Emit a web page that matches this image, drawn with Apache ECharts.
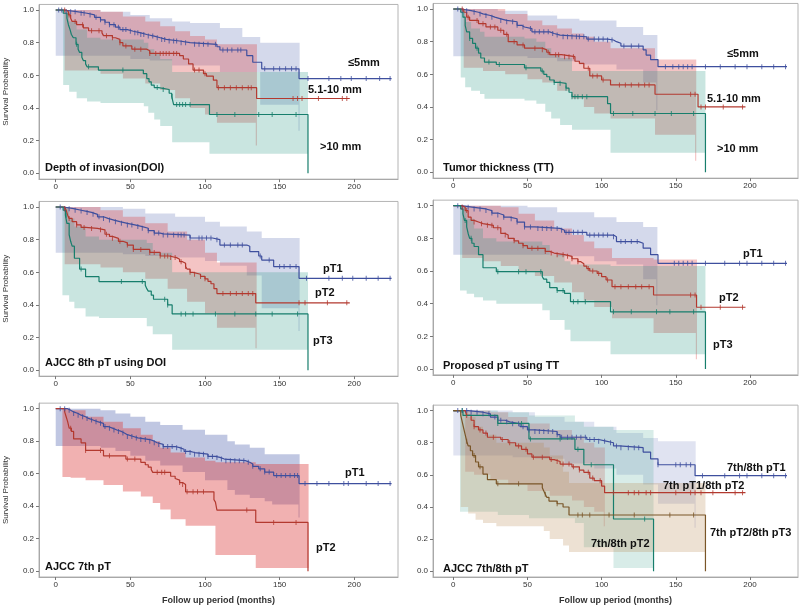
<!DOCTYPE html>
<html>
<head>
<meta charset="utf-8">
<script src="https://cdn.jsdelivr.net/npm/echarts@6.0.0/dist/echarts.min.js"></script>
<style>
html,body{margin:0;padding:0;background:#fff;}
#km{width:800px;height:606px;}
</style>
</head>
<body>
<div id="km"></div>
<script>
// tick positions
var monthTicks = [0, 50, 100, 150, 200];
var probTicks = [0, 0.2, 0.4, 0.6, 0.8, 1.0];

// ---- Depth of invasion (DOI)
var doiLowSurv = [[0,1],[5,0.99],[14,0.98],[21,0.97],[26,0.955],[30,0.94],[33,0.925],[36,0.91],[40,0.895],[43,0.88],[48,0.87],[52,0.86],[57,0.85],[61,0.84],[66,0.83],[70,0.82],[74,0.81],[83,0.80],[90,0.79],[108,0.775],[110,0.755],[128,0.72],[132,0.68],[138,0.64],[163,0.58],[225,0.58]];
var doiLowCens = [2,4,7,10,13,17,19,23,27,30,33,36,39,42,45,47,50,53,55,57,59,62,65,68,71,73,76,79,81,84,87,93,96,99,102,107,112,115,118,122,124,140,146,150,154,158,161,169,183,191,198,208,217,224];
var doiLowBand = [[0,0.72,1.0],[30,0.72,0.99],[50,0.70,0.97],[63,0.69,0.95],[78,0.66,0.93],[90,0.66,0.92],[110,0.62,0.89],[125,0.62,0.835],[137,0.42,0.80],[162.6,0.26,0.80],[163.4,0.26,0.80]];
var doiMidSurv = [[0,1],[7,0.99],[8.5,0.97],[10,0.95],[11,0.93],[14,0.91],[18.5,0.89],[22,0.873],[31,0.86],[32,0.843],[38,0.83],[40,0.82],[43,0.80],[45,0.78],[51,0.76],[61,0.75],[63,0.734],[83,0.72],[85.5,0.70],[89,0.67],[92,0.632],[99,0.61],[101,0.595],[105.6,0.57],[108,0.524],[134.6,0.458],[197,0.458]];
var doiMidCens = [6,9,13,18,24,29,34,38,43,47,53,57,63,67,70,72,74,76,79,81,93,96,100,109,113,117,121,125,129,131,159,162,165,176,192,195];
var doiMidBand = [[6,0.63,1.0],[30,0.61,0.99],[45,0.58,0.96],[60,0.55,0.93],[70,0.51,0.90],[80,0.46,0.87],[90,0.40,0.84],[100,0.36,0.82],[108,0.31,0.79],[134,0.17,0.79],[134.8,0.17,0.79]];
var doiHighSurv = [[0,1],[5,0.98],[7.5,0.95],[8.5,0.91],[9.6,0.88],[10.5,0.85],[11.8,0.83],[13.6,0.79],[15,0.76],[16,0.74],[17.5,0.71],[18.5,0.69],[20,0.67],[21,0.652],[28.6,0.632],[58.7,0.61],[61,0.58],[62.5,0.56],[64,0.54],[66,0.525],[69,0.513],[76,0.49],[77.7,0.47],[79,0.421],[103,0.36],[169,0]];
var doiHighCens = [14,22,45,68,72,78,81,83,85,87,90,108,120,136,145,161];
var doiHighBand = [[5,0.54,1.0],[9,0.50,0.93],[14,0.46,0.88],[21,0.44,0.83],[30,0.43,0.82],[59,0.41,0.80],[62,0.37,0.76],[66,0.33,0.73],[70,0.29,0.70],[78,0.19,0.62],[103,0.12,0.62],[169,0.12,0.62]];

// ---- Tumor thickness (TT)
var ttLowSurv = [[0,1],[5,0.99],[12,0.98],[17,0.97],[20,0.96],[25,0.95],[28,0.94],[32,0.93],[36,0.922],[43,0.90],[46,0.89],[48,0.88],[53,0.86],[65,0.85],[68,0.84],[72,0.83],[90,0.816],[104,0.81],[108,0.80],[110,0.79],[113,0.773],[128,0.75],[130,0.718],[133,0.69],[138,0.647],[225,0.647]];
var ttLowCens = [3,6,9,14,18,22,26,32,36,40,43,47,52,55,58,61,64,67,70,74,77,80,83,85,88,91,95,98,101,104,107,115,120,125,143,148,152,155,158,161,170,180,190,198,208,216,224];
var ttLowBand = [[0,0.71,1.0],[30,0.71,0.99],[50,0.70,0.96],[70,0.68,0.94],[85,0.66,0.93],[110,0.63,0.89],[128,0.55,0.84],[136.8,0.38,0.84],[137.6,0.38,0.84]];
var ttMidSurv = [[0,1],[7,0.98],[9,0.95],[11,0.93],[17,0.91],[22,0.89],[30,0.87],[34,0.845],[37,0.80],[43,0.78],[48,0.76],[60,0.75],[63,0.735],[65,0.72],[73,0.708],[82,0.68],[85,0.667],[88,0.637],[92,0.59],[100,0.565],[106,0.535],[136,0.478],[165,0.40],[197,0.40]];
var ttMidCens = [6,10,16,20,25,28,32,36,41,47,55,60,64,69,71,75,78,81,91,94,97,101,112,116,120,125,129,132,160,163,167,170,182,195];
var ttMidBand = [[7,0.64,1.0],[20,0.62,1.0],[35,0.60,0.97],[50,0.57,0.93],[60,0.55,0.90],[70,0.50,0.88],[80,0.45,0.85],[88,0.40,0.83],[95,0.36,0.80],[106,0.33,0.76],[136,0.23,0.69],[163,0.07,0.69],[163.8,0.07,0.69]];
var ttHighSurv = [[0,1],[5,0.98],[6.5,0.95],[8,0.90],[9,0.86],[11,0.82],[13,0.79],[15,0.76],[17,0.73],[18.5,0.70],[21,0.675],[29,0.66],[48,0.64],[59,0.62],[61,0.60],[63,0.585],[65,0.565],[68,0.55],[72,0.545],[76,0.515],[78,0.49],[80,0.463],[104,0.42],[106,0.36],[170,0]];
var ttHighCens = [11,16,24,31,49,60,68,72,76,80,82,84,87,90,108,121,136,147,162];
var ttHighBand = [[5,0.58,1.0],[8,0.52,0.92],[12,0.50,0.88],[18,0.48,0.86],[21,0.45,0.83],[48,0.44,0.82],[56,0.42,0.80],[62,0.37,0.76],[66,0.33,0.72],[72,0.29,0.70],[80,0.26,0.62],[106,0.12,0.62],[170,0.12,0.62]];

// ---- AJCC 8th pT using DOI
var aj8LowSurv = [[0,1],[5,0.99],[12,0.98],[17,0.975],[20,0.967],[24,0.955],[28,0.94],[32,0.93],[35,0.92],[39,0.91],[43,0.90],[48,0.89],[53,0.88],[58,0.87],[62,0.855],[66,0.84],[70,0.835],[72,0.828],[90,0.81],[105,0.80],[110,0.767],[128,0.76],[130,0.727],[136,0.70],[138,0.675],[146,0.635],[163,0.563],[225,0.563]];
var aj8LowCens = [3,6,9,13,17,21,25,29,32,36,40,44,48,51,55,58,62,66,69,72,75,79,82,84,86,90,96,98,101,104,108,113,117,122,125,137,143,150,153,157,161,168,183,192,199,208,216,224];
var aj8LowBand = [[0,0.72,1.0],[30,0.72,1.0],[45,0.71,0.99],[60,0.70,0.96],[80,0.69,0.94],[100,0.67,0.91],[110,0.64,0.88],[128,0.58,0.85],[138,0.38,0.81],[162.6,0.24,0.81],[163.4,0.24,0.81]];
var aj8MidSurv = [[0,1],[6,0.99],[7,0.98],[8,0.95],[9,0.93],[11,0.91],[14,0.89],[17,0.875],[20,0.869],[28,0.86],[33,0.833],[36,0.82],[38,0.808],[42,0.79],[45,0.78],[48,0.767],[52,0.74],[63,0.722],[70,0.70],[76,0.69],[81,0.68],[83,0.665],[85,0.655],[87,0.635],[88,0.62],[90,0.60],[92,0.588],[97,0.575],[100,0.56],[102,0.545],[104,0.53],[106,0.50],[108,0.47],[134,0.413],[197,0.413]];
var aj8MidCens = [6,9,14,19,24,30,34,38,43,48,52,57,63,66,70,73,75,77,80,84,87,90,93,97,100,112,117,121,125,129,132,163,167,182,195];
var aj8MidBand = [[6,0.65,1.0],[30,0.63,0.98],[45,0.60,0.94],[60,0.56,0.90],[75,0.50,0.85],[88,0.42,0.80],[100,0.35,0.72],[108,0.26,0.66],[133.8,0.135,0.66],[134.6,0.135,0.66]];
var aj8HighSurv = [[0,1],[5,0.98],[6.5,0.95],[7.5,0.90],[9,0.83],[10,0.79],[11,0.76],[12.5,0.686],[16,0.62],[20,0.573],[29,0.543],[60,0.52],[61,0.50],[62,0.485],[64,0.46],[65.5,0.435],[75,0.40],[78,0.345],[169,0]];
var aj8HighCens = [7,17,44,58,73,75,84,87,92,107,120,134,145,162];
var aj8HighBand = [[4.5,0.46,1.0],[9,0.42,0.93],[12.5,0.38,0.88],[20,0.33,0.82],[29,0.32,0.80],[61,0.27,0.78],[65,0.22,0.72],[78,0.125,0.60],[169,0.125,0.60]];

// ---- Proposed pT using TT
var ptLowSurv = [[0,1],[5,0.99],[14,0.98],[22,0.97],[26,0.955],[30,0.943],[34,0.93],[38,0.92],[43,0.90],[48,0.87],[55,0.861],[72,0.85],[75,0.837],[90,0.82],[108,0.81],[110,0.78],[125,0.77],[128,0.74],[133,0.70],[138,0.647],[225,0.647]];
var ptLowCens = [3,6,10,14,18,22,26,30,34,39,43,48,52,57,60,63,66,70,73,76,78,81,84,87,92,95,98,101,104,108,113,116,120,124,149,152,155,158,161,170,183,193,198,208,216,224];
var ptLowBand = [[0,0.70,1.0],[35,0.70,1.0],[50,0.70,0.99],[70,0.69,0.96],[95,0.66,0.93],[110,0.64,0.90],[128,0.55,0.87],[136.8,0.39,0.87],[137.6,0.39,0.87]];
var ptMidSurv = [[0,1],[6,0.99],[8,0.97],[10,0.93],[12,0.91],[14,0.90],[17,0.89],[20,0.88],[27,0.865],[32,0.83],[35,0.82],[37,0.80],[41,0.785],[44,0.77],[47,0.755],[50,0.739],[62,0.72],[65,0.71],[68,0.70],[75,0.69],[80,0.675],[84,0.657],[86,0.645],[88,0.63],[90,0.615],[92,0.60],[97,0.585],[100,0.565],[103,0.545],[107,0.504],[135,0.453],[164,0.378],[197,0.378]];
var ptMidCens = [6,9,14,19,23,26,30,35,41,47,53,57,62,66,70,74,77,80,84,91,94,98,104,109,113,118,123,127,132,160,163,167,180,195];
var ptMidBand = [[6,0.68,1.0],[20,0.66,1.0],[32,0.63,0.99],[44,0.60,0.95],[55,0.57,0.91],[68,0.53,0.86],[80,0.47,0.82],[88,0.42,0.78],[95,0.38,0.74],[107,0.31,0.68],[135,0.22,0.67],[163.5,0.06,0.67],[164.3,0.06,0.67]];
var ptHighSurv = [[0,1],[5,0.98],[6.5,0.95],[7.5,0.91],[9,0.87],[10,0.83],[11,0.80],[12.5,0.77],[14,0.75],[17,0.70],[20,0.62],[29,0.596],[60,0.565],[61,0.55],[63,0.53],[65,0.498],[70,0.48],[75,0.463],[79,0.412],[106,0.35],[170,0]];
var ptHighCens = [8,12,30,44,49,59,70,74,81,84,89,108,120,137,146,162];
var ptHighBand = [[4.5,0.48,1.0],[9,0.46,0.92],[14,0.44,0.86],[20,0.42,0.80],[29,0.40,0.78],[60,0.36,0.76],[65,0.30,0.70],[75,0.24,0.66],[79,0.17,0.64],[106,0.09,0.63],[170,0.09,0.63]];

// ---- AJCC 7th pT
var aj7LowSurv = [[0,1],[8,0.99],[10,0.98],[12,0.97],[15,0.96],[17,0.95],[20,0.94],[22,0.93],[25,0.92],[28,0.91],[32,0.89],[35,0.88],[38,0.869],[41,0.86],[44,0.85],[46,0.84],[48,0.829],[52,0.82],[55,0.81],[63,0.80],[66,0.79],[68,0.78],[72,0.767],[80,0.76],[83,0.75],[86,0.737],[90,0.73],[93,0.72],[102,0.706],[107,0.70],[110,0.69],[113,0.68],[127,0.67],[130,0.66],[132,0.645],[136,0.63],[140,0.61],[146,0.588],[163,0.539],[225,0.539]];
var aj7LowCens = [3,6,9,12,15,18,21,24,27,30,33,36,39,42,45,48,51,54,57,60,63,66,69,72,75,78,81,84,87,90,93,96,99,102,105,108,111,114,117,120,123,126,129,132,137,140,143,148,151,154,157,160,162,167,175,183,193,196,208,216,224];
var aj7LowBand = [[0,0.77,1.0],[25,0.77,1.0],[30,0.76,0.99],[40,0.74,0.97],[50,0.71,0.95],[60,0.68,0.92],[70,0.65,0.90],[85,0.61,0.87],[100,0.56,0.84],[115,0.50,0.80],[120,0.47,0.78],[130,0.45,0.76],[140,0.43,0.72],[145,0.41,0.72],[162.6,0.33,0.72],[163.4,0.33,0.72]];
var aj7HighSurv = [[0,1],[6,0.98],[7,0.95],[8,0.92],[9,0.88],[10.5,0.86],[12,0.814],[17,0.79],[20,0.743],[32,0.71],[47,0.69],[57,0.67],[60,0.655],[62,0.64],[64,0.625],[65,0.608],[77,0.584],[80,0.57],[81,0.56],[83,0.545],[85,0.533],[87,0.488],[106,0.44],[107,0.425],[108,0.376],[134,0.30],[169,0]];
var aj7HighCens = [10,20,30,36,48,53,68,71,73,83,85,88,92,95,99,128,146,161];
var aj7HighBand = [[4.5,0.58,1.0],[10,0.575,0.99],[20,0.56,0.95],[32,0.53,0.92],[45,0.49,0.88],[57,0.46,0.84],[65,0.42,0.80],[70,0.38,0.76],[77,0.32,0.73],[87,0.28,0.70],[100,0.28,0.68],[107,0.10,0.67],[134,0.02,0.66],[169.4,0.02,0.66]];

// ---- AJCC 7th/8th pT
var mixT1Surv = [[0,1],[10,0.99],[20,0.98],[25,0.96],[30,0.94],[35,0.93],[38,0.918],[45,0.90],[50,0.88],[55,0.87],[70,0.85],[72,0.834],[90,0.82],[98,0.81],[103,0.80],[108,0.78],[112,0.769],[128,0.742],[133,0.70],[138,0.663],[163,0.595],[225,0.595]];
var mixT1Cens = [3,6,9,12,16,20,24,28,32,36,40,44,47,51,55,58,61,64,67,70,73,77,80,83,86,89,92,95,98,102,106,110,113,118,122,125,138,150,153,157,160,168,183,193,198,208,216,224];
var mixT1Band = [[0,0.72,1.0],[30,0.72,1.0],[40,0.71,0.99],[55,0.70,0.96],[75,0.67,0.93],[95,0.64,0.90],[110,0.60,0.86],[128,0.54,0.83],[138,0.42,0.81],[162.6,0.27,0.81],[163.4,0.27,0.81]];
var mixMidSurv = [[0,1],[8,0.99],[9,0.97],[12,0.94],[14,0.90],[17,0.88],[20,0.86],[23,0.834],[32,0.82],[37,0.80],[42,0.78],[46,0.759],[50,0.73],[53,0.71],[65,0.695],[68,0.683],[72,0.667],[80,0.65],[85,0.63],[88,0.616],[92,0.58],[95,0.564],[100,0.53],[102,0.489],[197,0.489]];
var mixMidCens = [9,14,18,22,27,33,38,44,49,54,60,66,70,74,78,81,85,91,94,99,108,118,122,125,130,133,150,160,163,167,175,190,195];
var mixMidBand = [[8,0.62,1.0],[14,0.60,1.0],[25,0.57,0.99],[37,0.54,0.96],[50,0.50,0.92],[65,0.47,0.88],[80,0.44,0.84],[88,0.40,0.80],[95,0.37,0.77],[101.4,0.28,0.77],[102.2,0.28,0.77]];
var mixT2Surv = [[0,1],[6.5,0.97],[30,0.92],[51,0.824],[82,0.759],[88,0.663],[108,0.325],[135,0]];
var mixT2Cens = [6,30,46,52,72,84,93,129];
var mixT2Band = [[4.5,0.37,1.0],[30,0.35,0.99],[51,0.33,0.97],[82,0.30,0.93],[88,0.15,0.90],[108,0.02,0.88],[135,0.02,0.88]];
var mixT3Surv = [[0,1],[5,0.97],[6,0.93],[7,0.89],[8,0.85],[9,0.81],[10,0.78],[11.5,0.75],[13,0.72],[15,0.68],[17,0.65],[20,0.605],[23,0.57],[29,0.544],[60,0.52],[61,0.50],[62,0.48],[63,0.46],[64.5,0.437],[70,0.42],[74,0.40],[78,0.35],[170,0]];
var mixT3Cens = [9,14,18,30,44,62,70,84,87,92,105,122,146,162];
var mixT3Band = [[5,0.40,1.0],[10,0.36,0.96],[15,0.32,0.90],[20,0.30,0.85],[29,0.28,0.80],[61,0.25,0.77],[65,0.20,0.72],[74,0.16,0.62],[78,0.12,0.55],[170,0.12,0.55]];

var blue = '#3e4f9e', red = '#b3392f', green = '#177e6c', brown = '#7a5628';
// band fills: the 3-group panels, the 2-group panel and the 4-group panel differ in strength
var blueFill = 'rgba(70,90,170,0.23)', redFill = 'rgba(220,60,60,0.30)', greenFill = 'rgba(40,150,130,0.25)';
var blueFill2 = 'rgba(70,90,170,0.34)', redFill2 = 'rgba(220,60,60,0.40)';
var blueFill4 = 'rgba(70,90,170,0.17)', redFill4 = 'rgba(220,60,60,0.22)',
    greenFill4 = 'rgba(40,150,130,0.18)', brownFill4 = 'rgba(180,130,70,0.24)';
var font = '"Liberation Sans", Arial, sans-serif';

var panels = [
    {grid: {left: 39, top: 4.45, width: 359, height: 174.7}, xmin: -11.2, xmax: 229.3, yName: true, xName: false,
     title: ['Depth of invasion(DOI)', 45, 168],
     groups: [[doiLowSurv, doiLowCens, doiLowBand, blue, blueFill], [doiMidSurv, doiMidCens, doiMidBand, red, redFill], [doiHighSurv, doiHighCens, doiHighBand, green, greenFill]],
     labels: [['≤5mm', 348, 63], ['5.1-10 mm', 308, 90], ['>10 mm', 320, 147]]},
    {grid: {left: 433, top: 3.45, width: 365, height: 174.7}, xmin: -13.7, xmax: 232.4, yName: false, xName: false,
     title: ['Tumor thickness (TT)', 443, 168],
     groups: [[ttLowSurv, ttLowCens, ttLowBand, blue, blueFill], [ttMidSurv, ttMidCens, ttMidBand, red, redFill], [ttHighSurv, ttHighCens, ttHighBand, green, greenFill]],
     labels: [['≤5mm', 727, 54], ['5.1-10 mm', 707, 99], ['>10 mm', 717, 149]]},
    {grid: {left: 39, top: 201.45, width: 359, height: 174.7}, xmin: -11.2, xmax: 229.3, yName: true, xName: false,
     title: ['AJCC 8th pT using DOI', 45, 363],
     groups: [[aj8LowSurv, aj8LowCens, aj8LowBand, blue, blueFill], [aj8MidSurv, aj8MidCens, aj8MidBand, red, redFill], [aj8HighSurv, aj8HighCens, aj8HighBand, green, greenFill]],
     labels: [['pT1', 323, 269], ['pT2', 315, 293], ['pT3', 313, 341]]},
    {grid: {left: 433, top: 200.15, width: 365, height: 174.7}, xmin: -13.7, xmax: 232.4, yName: false, xName: false,
     title: ['Proposed pT using TT', 443, 366],
     groups: [[ptLowSurv, ptLowCens, ptLowBand, blue, blueFill], [ptMidSurv, ptMidCens, ptMidBand, red, redFill], [ptHighSurv, ptHighCens, ptHighBand, green, greenFill]],
     labels: [['pT1', 743, 254], ['pT2', 719, 298], ['pT3', 713, 345]]},
    {grid: {left: 39, top: 403.15, width: 359, height: 174.7}, xmin: -11.2, xmax: 229.3, yName: true, xName: true,
     title: ['AJCC 7th pT', 45, 567],
     groups: [[aj7LowSurv, aj7LowCens, aj7LowBand, blue, blueFill2], [aj7HighSurv, aj7HighCens, aj7HighBand, red, redFill2]],
     labels: [['pT1', 345, 473], ['pT2', 316, 548]]},
    {grid: {left: 433, top: 405.15, width: 365, height: 174.7}, xmin: -13.7, xmax: 232.4, yName: false, xName: true,
     title: ['AJCC 7th/8th pT', 443, 569],
     groups: [[mixT1Surv, mixT1Cens, mixT1Band, blue, blueFill4], [mixMidSurv, mixMidCens, mixMidBand, red, redFill4], [mixT2Surv, mixT2Cens, mixT2Band, green, greenFill4], [mixT3Surv, mixT3Cens, mixT3Band, brown, brownFill4]],
     labels: [['7th/8th pT1', 727, 468], ['7th pT1/8th pT2', 663, 486], ['7th pT2/8th pT3', 710, 533], ['7th/8th pT2', 591, 544]]}
];

// survival value at time t on a step curve
function survAt(curve, t) {
    var s = curve[0][1];
    for (var i = 0; i < curve.length; i++) {
        if (curve[i][0] <= t) s = curve[i][1];
    }
    return s;
}

// confidence band drawn as one step polygon
function bandRenderer(band, fill) {
    return function(params, api) {
        if (params.dataIndex !== 0) return null;
        var top = [], bot = [];
        for (var i = 0; i < band.length - 1; i++) {
            top.push(api.coord([band[i][0], band[i][2]]));
            top.push(api.coord([band[i + 1][0], band[i][2]]));
            bot.push(api.coord([band[i][0], band[i][1]]));
            bot.push(api.coord([band[i + 1][0], band[i][1]]));
        }
        return {
            type: 'polygon',
            shape: {points: top.concat(bot.reverse())},
            style: {fill: fill}
        };
    };
}

var grids = [], xAxes = [], yAxes = [], series = [], graphic = [];

panels.forEach(function(p, i) {
    grids.push({
        left: p.grid.left, top: p.grid.top, width: p.grid.width, height: p.grid.height,
        show: true, borderColor: '#b4b4b4', borderWidth: 1, containLabel: false
    });
    xAxes.push({
        gridIndex: i, type: 'value', min: p.xmin, max: p.xmax,
        axisLine: {show: true, onZero: false, lineStyle: {color: '#a8a8a8'}},
        axisTick: {show: true, length: 3, customValues: monthTicks, lineStyle: {color: '#777'}},
        axisLabel: {customValues: monthTicks, fontSize: 8, color: '#333', margin: 4, fontFamily: font},
        splitLine: {show: false},
        name: p.xName ? 'Follow up period (months)' : '',
        nameLocation: 'middle', nameGap: 19,
        nameTextStyle: {fontSize: 9, fontWeight: 'bold', color: '#333', fontFamily: font}
    });
    yAxes.push({
        gridIndex: i, type: 'value', min: -0.036, max: 1.034,
        axisLine: {show: true, onZero: false, lineStyle: {color: '#a8a8a8'}},
        axisTick: {show: true, length: 3, customValues: probTicks, lineStyle: {color: '#777'}},
        axisLabel: {
            customValues: probTicks, fontSize: 8, color: '#333', margin: 5, fontFamily: font,
            formatter: function(v) { return v.toFixed(1); }
        },
        splitLine: {show: false},
        name: p.yName ? 'Survival Probability' : '',
        nameLocation: 'middle', nameGap: 29,
        nameTextStyle: {fontSize: 8, color: '#333', fontFamily: font}
    });

    p.groups.forEach(function(g) {
        var curve = g[0], cens = g[1], band = g[2], color = g[3], fill = g[4];
        series.push({
            type: 'custom', xAxisIndex: i, yAxisIndex: i, silent: true, z: 1, clip: true,
            data: band, encode: {x: 0, y: [1, 2]},
            renderItem: bandRenderer(band, fill)
        });
        series.push({
            type: 'line', xAxisIndex: i, yAxisIndex: i, silent: true, z: 3,
            data: curve, step: 'end', showSymbol: false, symbol: 'none',
            lineStyle: {color: color, width: 1.2},
            itemStyle: {color: color}
        });
        series.push({
            type: 'scatter', xAxisIndex: i, yAxisIndex: i, silent: true, z: 4,
            data: cens.map(function(t) { return [t, survAt(curve, t)]; }),
            symbol: 'rect', symbolSize: [1, 5],
            itemStyle: {color: color}
        });
    });

    graphic.push({
        type: 'text', x: p.title[1], y: p.title[2], z: 10,
        style: {text: p.title[0], font: 'bold 11px ' + font, fill: '#111',
                textVerticalAlign: 'middle', verticalAlign: 'middle'}
    });
    p.labels.forEach(function(l) {
        graphic.push({
            type: 'text', x: l[1], y: l[2], z: 10,
            style: {text: l[0], font: 'bold 11px ' + font, fill: '#111',
                    textVerticalAlign: 'middle', verticalAlign: 'middle'}
        });
    });
});

var myChart = echarts.init(document.getElementById('km'));
var option = {
    animation: false,
    backgroundColor: '#fff',
    grid: grids,
    xAxis: xAxes,
    yAxis: yAxes,
    series: series,
    graphic: graphic
};
myChart.setOption(option);
</script>
</body>
</html>
